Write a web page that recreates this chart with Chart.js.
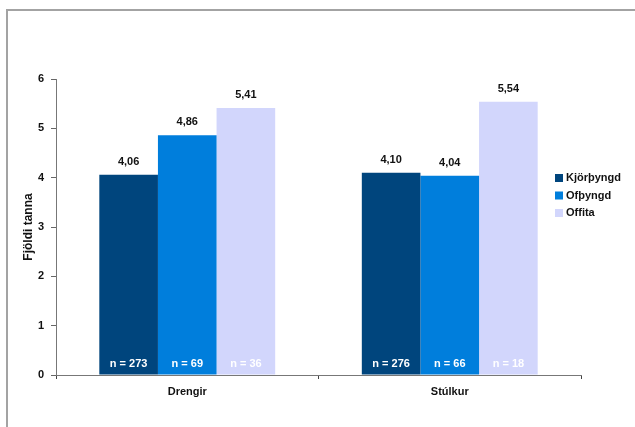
<!DOCTYPE html>
<html>
<head>
<meta charset="utf-8">
<script src="https://cdn.jsdelivr.net/npm/chart.js@4/dist/chart.umd.min.js"></script>
<style>
  body { margin: 0; background: #fff; }
  #wrap { position: relative; width: 635px; height: 427px; }
  #frame { position: absolute; left: 6px; top: 9px; width: 640px; height: 430px;
           border-top: 2px solid #a3a3a3; border-left: 2px solid #a3a3a3; }
  canvas { position: absolute; left: 0; top: 0; }
</style>
</head>
<body>
<div id="wrap">
  <div id="frame"></div>
  <canvas id="myChart" width="635" height="427"></canvas>
</div>
<script>
// mean number of teeth per weight group, split by sex
var groups = ['Drengir', 'Stúlkur'];
var series = ['Kjörþyngd', 'Ofþyngd', 'Offita'];
var colors = ['#00457d', '#007edc', '#d2d6fc'];
var kjorthyngd = [4.06, 4.10];
var ofthyngd = [4.86, 4.04];
var offita = [5.41, 5.54];
// sample sizes printed at the foot of each bar
var nKjorthyngd = [273, 276];
var nOfthyngd = [69, 66];
var nOffita = [36, 18];
var yTicks = [0, 1, 2, 3, 4, 5, 6];

var values = [kjorthyngd, ofthyngd, offita];
var counts = [nKjorthyngd, nOfthyngd, nOffita];

var FONT = 'Arial, "Liberation Sans", sans-serif';

// value above each bar, n = ... inside the bottom, and the legend on the right
var labelPlugin = {
    id: 'barLabels',
    afterDatasetsDraw: function (chart) {
        var ctx = chart.ctx;
        var yScale = chart.scales.y;
        ctx.save();
        ctx.font = 'bold 11px ' + FONT;
        ctx.textAlign = 'center';
        ctx.textBaseline = 'middle';
        chart.data.datasets.forEach(function (ds, di) {
            var meta = chart.getDatasetMeta(di);
            meta.data.forEach(function (bar, i) {
                ctx.fillStyle = '#111';
                ctx.fillText(ds.data[i].toFixed(2).replace('.', ','), bar.x, bar.y - 13);
                ctx.fillStyle = '#fff';
                ctx.fillText('n = ' + counts[di][i], bar.x, yScale.bottom - 11);
            });
        });

        ctx.textAlign = 'left';
        chart.data.datasets.forEach(function (ds, di) {
            var y = 178 + di * 17.5;
            ctx.fillStyle = ds.backgroundColor;
            ctx.fillRect(555, y - 4, 8, 8);
            ctx.fillStyle = '#111';
            ctx.fillText(ds.label, 566, y);
        });
        ctx.restore();
    }
};

function main() {
    var ctx = document.getElementById('myChart').getContext('2d');
    var chart = new Chart(ctx, {
        type: 'bar',
        data: {
            labels: groups,
            datasets: series.map(function (name, i) {
                return {
                    label: name,
                    data: values[i],
                    backgroundColor: colors[i],
                    borderWidth: 0,
                    barPercentage: 1,
                    categoryPercentage: 0.67
                };
            })
        },
        options: {
            responsive: false,
            animation: false,
            layout: { padding: { left: 18, top: 79, right: 54, bottom: 0 } },
            plugins: {
                legend: { display: false },
                tooltip: { enabled: false }
            },
            scales: {
                x: {
                    afterFit: function (scale) { scale.height = 52; },
                    grid: {
                        offset: true,
                        drawOnChartArea: false,
                        drawTicks: true,
                        tickLength: 4,
                        color: '#444'
                    },
                    border: { color: '#777', width: 1 },
                    ticks: {
                        padding: 6,
                        color: '#111',
                        font: { family: FONT, size: 11, weight: 'bold' }
                    }
                },
                y: {
                    min: 0,
                    max: 6,
                    afterFit: function (scale) { scale.width = 38; },
                    afterBuildTicks: function (scale) {
                        scale.ticks = yTicks.map(function (v) { return { value: v }; });
                    },
                    grid: {
                        drawOnChartArea: false,
                        drawTicks: true,
                        tickLength: 5,
                        color: '#666'
                    },
                    border: { color: '#777', width: 1 },
                    ticks: {
                        padding: 7,
                        color: '#111',
                        font: { family: FONT, size: 11, weight: 'bold' }
                    },
                    title: {
                        display: true,
                        text: 'Fjöldi tanna',
                        color: '#111',
                        padding: { top: 3, bottom: 0 },
                        font: { family: FONT, size: 12, weight: 'bold' }
                    }
                }
            }
        },
        plugins: [labelPlugin]
    });
}

main();
</script>
</body>
</html>
